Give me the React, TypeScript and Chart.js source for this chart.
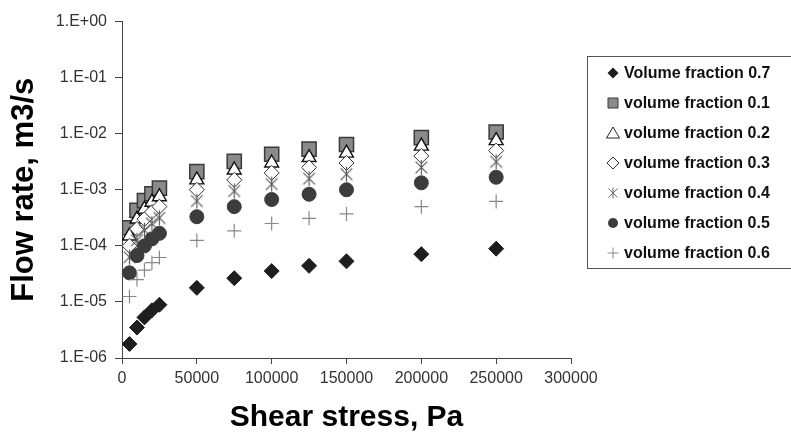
import React, { useEffect, useRef } from 'react';
import { Chart, registerables } from 'chart.js';

Chart.register(...registerables);

const FONT = "'Liberation Sans', Arial, Helvetica, sans-serif";

// ---- Data ----
const shearStress = [5000, 10000, 15000, 20000, 25000, 50000, 75000, 100000, 125000, 150000, 200000, 250000];

const seriesLabels = [
  'Volume fraction 0.7',
  'volume fraction 0.1',
  'volume fraction 0.2',
  'volume fraction 0.3',
  'volume fraction 0.4',
  'volume fraction 0.5',
  'volume fraction 0.6',
];

const vf07 = [1.78e-6, 3.5e-6, 5.3e-6, 7.1e-6, 8.9e-6, 1.78e-5, 2.65e-5, 3.55e-5, 4.4e-5, 5.3e-5, 7.1e-5, 8.9e-5];
const vf01 = [2.1e-4, 4.3e-4, 6.4e-4, 8.5e-4, 1.07e-3, 2.1e-3, 3.2e-3, 4.3e-3, 5.3e-3, 6.4e-3, 8.5e-3, 1.07e-2];
const vf02 = [1.5e-4, 3.0e-4, 4.5e-4, 6.0e-4, 7.5e-4, 1.5e-3, 2.25e-3, 3.0e-3, 3.75e-3, 4.5e-3, 6.0e-3, 7.5e-3];
const vf03 = [1.0e-4, 2.0e-4, 3.0e-4, 4.0e-4, 5.0e-4, 1.0e-3, 1.5e-3, 2.0e-3, 2.5e-3, 3.0e-3, 4.0e-3, 5.0e-3];
const vf04 = [6.3e-5, 1.26e-4, 1.9e-4, 2.5e-4, 3.15e-4, 6.3e-4, 9.5e-4, 1.26e-3, 1.58e-3, 1.9e-3, 2.5e-3, 3.15e-3];
const vf05 = [3.3e-5, 6.7e-5, 1.0e-4, 1.33e-4, 1.67e-4, 3.3e-4, 5.0e-4, 6.7e-4, 8.3e-4, 1.0e-3, 1.33e-3, 1.67e-3];
const vf06 = [1.25e-5, 2.5e-5, 3.7e-5, 5.0e-5, 6.2e-5, 1.25e-4, 1.85e-4, 2.5e-4, 3.1e-4, 3.7e-4, 5.0e-4, 6.2e-4];

const seriesValues = [vf07, vf01, vf02, vf03, vf04, vf05, vf06];

const yTickValues = [1e-6, 1e-5, 1e-4, 1e-3, 1e-2, 1e-1, 1];
const yTickLabels = ['1.E-06', '1.E-05', '1.E-04', '1.E-03', '1.E-02', '1.E-01', '1.E+00'];
const xTickValues = [0, 50000, 100000, 150000, 200000, 250000, 300000];
const xTickLabels = ['0', '50000', '100000', '150000', '200000', '250000', '300000'];

// ---- Marker helpers ----
function makeStar(size: number, color: string, lw: number) {
  const c = document.createElement('canvas');
  c.width = size;
  c.height = size;
  const ctx = c.getContext('2d')!;
  const m = size / 2;
  const r = size / 2 - 1;
  const d = r * 0.78;
  ctx.strokeStyle = color;
  ctx.lineWidth = lw;
  ctx.beginPath();
  ctx.moveTo(m, m - r);
  ctx.lineTo(m, m + r);
  ctx.moveTo(m - d, m - d);
  ctx.lineTo(m + d, m + d);
  ctx.moveTo(m + d, m - d);
  ctx.lineTo(m - d, m + d);
  ctx.stroke();
  return c;
}

type Kind = 'fdiamond' | 'square' | 'triangle' | 'odiamond' | 'star' | 'circle' | 'plus';
const kinds: Kind[] = ['fdiamond', 'square', 'triangle', 'odiamond', 'star', 'circle', 'plus'];

function drawLegendMarker(ctx: CanvasRenderingContext2D, kind: Kind, x: number, y: number) {
  ctx.save();
  ctx.beginPath();
  if (kind === 'fdiamond') {
    const r = 5.5;
    ctx.moveTo(x, y - r); ctx.lineTo(x + r, y); ctx.lineTo(x, y + r); ctx.lineTo(x - r, y); ctx.closePath();
    ctx.fillStyle = '#1e1e1e'; ctx.fill();
  } else if (kind === 'square') {
    ctx.rect(x - 5, y - 5, 10, 10);
    ctx.fillStyle = '#8a8a8a'; ctx.fill();
    ctx.strokeStyle = '#3a3a3a'; ctx.lineWidth = 1; ctx.stroke();
  } else if (kind === 'triangle') {
    ctx.moveTo(x, y - 6); ctx.lineTo(x + 6.5, y + 5); ctx.lineTo(x - 6.5, y + 5); ctx.closePath();
    ctx.fillStyle = '#fff'; ctx.fill();
    ctx.strokeStyle = '#222'; ctx.lineWidth = 1; ctx.stroke();
  } else if (kind === 'odiamond') {
    const r = 6;
    ctx.moveTo(x, y - r); ctx.lineTo(x + r, y); ctx.lineTo(x, y + r); ctx.lineTo(x - r, y); ctx.closePath();
    ctx.fillStyle = '#fff'; ctx.fill();
    ctx.strokeStyle = '#333'; ctx.lineWidth = 1; ctx.stroke();
  } else if (kind === 'star') {
    const r = 5.5; const d = 4.5;
    ctx.moveTo(x, y - r); ctx.lineTo(x, y + r);
    ctx.moveTo(x - d, y - d); ctx.lineTo(x + d, y + d);
    ctx.moveTo(x + d, y - d); ctx.lineTo(x - d, y + d);
    ctx.strokeStyle = '#666'; ctx.lineWidth = 1; ctx.stroke();
  } else if (kind === 'circle') {
    ctx.arc(x, y, 5, 0, Math.PI * 2);
    ctx.fillStyle = '#3c3c3c'; ctx.fill();
  } else if (kind === 'plus') {
    const r = 5.5;
    ctx.moveTo(x, y - r); ctx.lineTo(x, y + r);
    ctx.moveTo(x - r, y); ctx.lineTo(x + r, y);
    ctx.strokeStyle = '#888'; ctx.lineWidth = 1; ctx.stroke();
  }
  ctx.restore();
}

const legendPlugin = {
  id: 'boxLegend',
  afterDraw(chart: any) {
    const ctx: CanvasRenderingContext2D = chart.ctx;
    ctx.save();
    ctx.strokeStyle = '#555';
    ctx.lineWidth = 1;
    ctx.strokeRect(587.5, 56.5, 215, 212);
    ctx.font = `bold 16px ${FONT}`;
    ctx.textBaseline = 'middle';
    ctx.textAlign = 'left';
    ctx.fillStyle = '#111';
    chart.data.datasets.forEach((ds: any, i: number) => {
      const y = 73 + i * 30;
      drawLegendMarker(ctx, kinds[i], 613, y);
      ctx.fillText(ds.label, 624, y + 1);
    });
    ctx.restore();
  },
};

export default function App() {
  const canvasRef = useRef<HTMLCanvasElement | null>(null);

  useEffect(() => {
    if (!canvasRef.current) return;
    const star = makeStar(17, '#5a5a5a', 1.2);

    const styles: any[] = [
      { pointStyle: 'rectRot', pointRadius: 7.5, backgroundColor: '#1e1e1e', borderColor: '#1e1e1e', borderWidth: 1 },
      { pointStyle: 'rect', pointRadius: 10, backgroundColor: '#8a8a8a', borderColor: '#3a3a3a', borderWidth: 1.5 },
      { pointStyle: 'triangle', pointRadius: 8, backgroundColor: '#ffffff', borderColor: '#111111', borderWidth: 1.4 },
      { pointStyle: 'rectRot', pointRadius: 7.5, backgroundColor: '#ffffff', borderColor: '#333333', borderWidth: 1 },
      { pointStyle: star, pointRadius: 8, backgroundColor: '#5a5a5a', borderColor: '#5a5a5a', borderWidth: 1 },
      { pointStyle: 'circle', pointRadius: 7, backgroundColor: '#3c3c3c', borderColor: '#3c3c3c', borderWidth: 1 },
      { pointStyle: 'cross', pointRadius: 7, backgroundColor: '#888888', borderColor: '#888888', borderWidth: 1.2 },
    ];

    const datasets = seriesValues.map((vals, i) => ({
      label: seriesLabels[i],
      data: shearStress.map((x, j) => ({ x, y: vals[j] })),
      showLine: false,
      order: seriesValues.length - i,
      ...styles[i],
    }));

    const chart = new Chart(canvasRef.current, {
      type: 'scatter',
      data: { datasets },
      plugins: [legendPlugin],
      options: {
        animation: false,
        responsive: true,
        maintainAspectRatio: false,
        layout: { padding: { left: 0, top: 21.5, right: 220, bottom: 0 } },
        plugins: {
          legend: { display: false },
          tooltip: { enabled: false },
        },
        scales: {
          x: {
            type: 'linear',
            min: 0,
            max: 300000,
            afterBuildTicks: (scale: any) => {
              scale.ticks = xTickValues.map((v) => ({ value: v }));
            },
            afterFit: (scale: any) => {
              scale.height = 78;
            },
            ticks: {
              autoSkip: false,
              maxRotation: 0,
              padding: 5,
              color: '#333',
              font: { family: FONT, size: 16 },
              callback: (v: any) => xTickLabels[xTickValues.indexOf(Number(v))] ?? '',
            },
            grid: { drawOnChartArea: false, drawTicks: true, tickLength: 6, color: '#444', tickColor: '#444' },
            border: { display: true, color: '#444', width: 1 },
            title: {
              display: true,
              text: 'Shear stress, Pa',
              color: '#000',
              font: { family: FONT, size: 30, weight: 'bold' },
              padding: { top: 0, bottom: 0 },
            },
          },
          y: {
            type: 'logarithmic',
            min: 1e-6,
            max: 1,
            afterBuildTicks: (scale: any) => {
              scale.ticks = yTickValues.map((v) => ({ value: v }));
            },
            afterFit: (scale: any) => {
              scale.width = 122;
            },
            ticks: {
              autoSkip: false,
              padding: 8,
              color: '#333',
              font: { family: FONT, size: 16 },
              callback: (v: any) => {
                const idx = yTickValues.findIndex((t) => Math.abs(Math.log10(t) - Math.log10(Number(v))) < 1e-6);
                return idx >= 0 ? yTickLabels[idx] : '';
              },
            },
            grid: { drawOnChartArea: false, drawTicks: true, tickLength: 7, color: '#444', tickColor: '#444' },
            border: { display: true, color: '#444', width: 1 },
            title: {
              display: true,
              text: 'Flow rate, m3/s',
              color: '#000',
              font: { family: FONT, size: 31, weight: 'bold' },
              padding: { top: 6, bottom: 0 },
            },
          },
        },
      } as any,
    });

    return () => chart.destroy();
  }, []);

  return (
    <div style={{ position: 'absolute', left: 0, top: 0, width: 791, height: 436, background: '#fff' }}>
      <canvas ref={canvasRef} />
    </div>
  );
}
